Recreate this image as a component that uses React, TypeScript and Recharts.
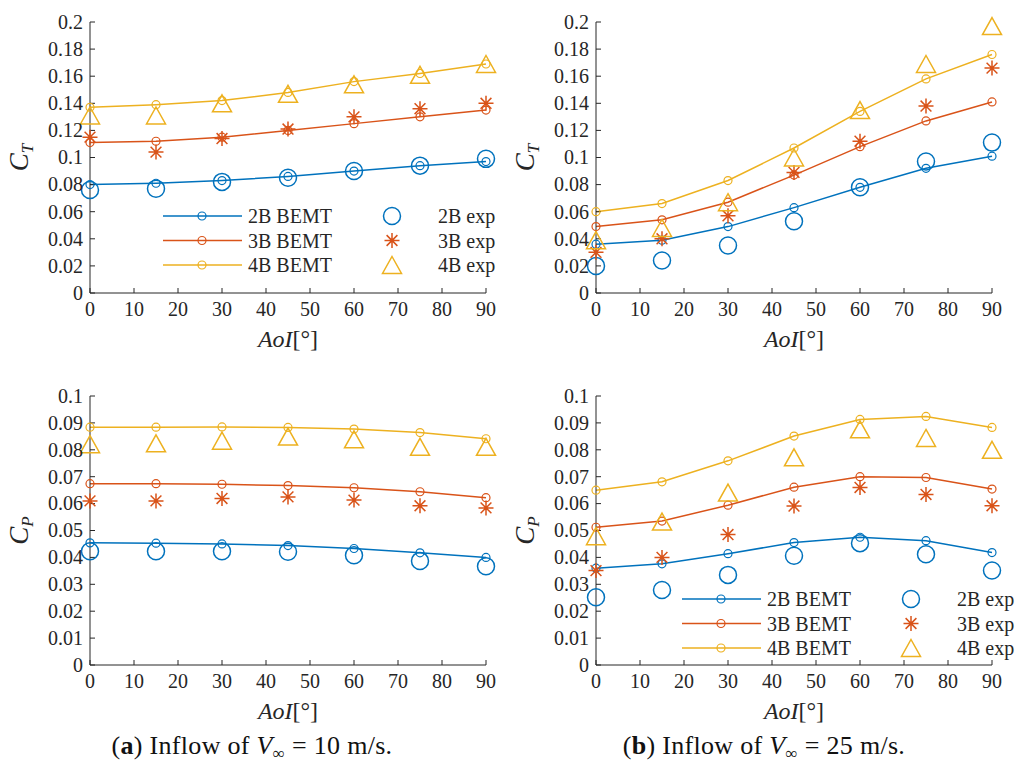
import { LineChart, Line, XAxis, YAxis, Legend } from "recharts"

const BLUE = "#0072BD"
const ORANGE = "#D95319"
const YELLOW = "#EDB120"
const INK = "#262626"
const SERIF = '"Liberation Serif", serif'

// angle of inflow, degrees
const aoi = [0, 15, 30, 45, 60, 75, 90]
const xTicks = [0, 10, 20, 30, 40, 50, 60, 70, 80, 90]
const ctTicks = [0, 0.02, 0.04, 0.06, 0.08, 0.1, 0.12, 0.14, 0.16, 0.18, 0.2]
const cpTicks = [0, 0.01, 0.02, 0.03, 0.04, 0.05, 0.06, 0.07, 0.08, 0.09, 0.1]

// C_T, V = 10 m/s
const ct10Bemt2 = [0.08, 0.081, 0.083, 0.086, 0.09, 0.094, 0.097]
const ct10Bemt3 = [0.111, 0.112, 0.115, 0.12, 0.125, 0.13, 0.135]
const ct10Bemt4 = [0.137, 0.139, 0.142, 0.148, 0.156, 0.162, 0.169]
const ct10Exp2 = [0.076, 0.077, 0.082, 0.085, 0.09, 0.094, 0.099]
const ct10Exp3 = [0.115, 0.104, 0.114, 0.121, 0.13, 0.136, 0.14]
const ct10Exp4 = [0.131, 0.131, 0.14, 0.147, 0.154, 0.161, 0.169]

// C_T, V = 25 m/s
const ct25Bemt2 = [0.036, 0.039, 0.049, 0.063, 0.078, 0.092, 0.101]
const ct25Bemt3 = [0.049, 0.054, 0.067, 0.087, 0.108, 0.127, 0.141]
const ct25Bemt4 = [0.06, 0.066, 0.083, 0.107, 0.134, 0.158, 0.176]
const ct25Exp2 = [0.02, 0.024, 0.035, 0.053, 0.078, 0.097, 0.111]
const ct25Exp3 = [0.03, 0.04, 0.057, 0.089, 0.112, 0.138, 0.166]
const ct25Exp4 = [0.039, 0.048, 0.067, 0.1, 0.135, 0.169, 0.197]

// C_P, V = 10 m/s
const cp10Bemt2 = [0.0454, 0.0453, 0.045, 0.0444, 0.0433, 0.0417, 0.04]
const cp10Bemt3 = [0.0674, 0.0674, 0.0672, 0.0667, 0.0659, 0.0644, 0.0622]
const cp10Bemt4 = [0.0884, 0.0884, 0.0885, 0.0883, 0.0877, 0.0864, 0.0841]
const cp10Exp2 = [0.0423, 0.0423, 0.0423, 0.0421, 0.0408, 0.0387, 0.0367]
const cp10Exp3 = [0.061, 0.061, 0.0619, 0.0625, 0.0613, 0.0592, 0.0584]
const cp10Exp4 = [0.0821, 0.0824, 0.0834, 0.0849, 0.0839, 0.0811, 0.0811]

// C_P, V = 25 m/s
const cp25Bemt2 = [0.036, 0.0376, 0.0414, 0.0455, 0.0475, 0.0462, 0.0418]
const cp25Bemt3 = [0.0512, 0.0535, 0.0594, 0.0661, 0.07, 0.0697, 0.0654]
const cp25Bemt4 = [0.065, 0.0681, 0.0759, 0.0851, 0.0913, 0.0924, 0.0883]
const cp25Exp2 = [0.0252, 0.0279, 0.0335, 0.0406, 0.0453, 0.0412, 0.0351]
const cp25Exp3 = [0.0351, 0.04, 0.0485, 0.0591, 0.066, 0.0634, 0.0592]
const cp25Exp4 = [0.0479, 0.0533, 0.0641, 0.0772, 0.0876, 0.0844, 0.08]

type Row = { aoi: number; b2: number; b3: number; b4: number; e2: number; e3: number; e4: number }

function toRows(b2: number[], b3: number[], b4: number[], e2: number[], e3: number[], e4: number[]): Row[] {
  return aoi.map((a, i) => ({ aoi: a, b2: b2[i], b3: b3[i], b4: b4[i], e2: e2[i], e3: e3[i], e4: e4[i] }))
}

const ct10 = toRows(ct10Bemt2, ct10Bemt3, ct10Bemt4, ct10Exp2, ct10Exp3, ct10Exp4)
const ct25 = toRows(ct25Bemt2, ct25Bemt3, ct25Bemt4, ct25Exp2, ct25Exp3, ct25Exp4)
const cp10 = toRows(cp10Bemt2, cp10Bemt3, cp10Bemt4, cp10Exp2, cp10Exp3, cp10Exp4)
const cp25 = toRows(cp25Bemt2, cp25Bemt3, cp25Bemt4, cp25Exp2, cp25Exp3, cp25Exp4)

const serifStyle = { fontFamily: SERIF }

/* ---- marker shapes (MATLAB-ish 'o', '*', '^') ---- */

function SmallCircle({ cx, cy, color }: { cx: number; cy: number; color: string }) {
  return <circle cx={cx} cy={cy} r={4} fill="none" stroke={color} strokeWidth={1.2} />
}
function BigCircle({ cx, cy, color }: { cx: number; cy: number; color: string }) {
  return <circle cx={cx} cy={cy} r={8.5} fill="none" stroke={color} strokeWidth={1.5} />
}
function Star({ cx, cy, color }: { cx: number; cy: number; color: string }) {
  const r = 7.5
  const d = r * 0.72
  const p =
    `M${cx - r},${cy}H${cx + r}M${cx},${cy - r}V${cy + r}` +
    `M${cx - d},${cy - d}L${cx + d},${cy + d}M${cx - d},${cy + d}L${cx + d},${cy - d}`
  return <path d={p} fill="none" stroke={color} strokeWidth={1.5} />
}
function Tri({ cx, cy, color }: { cx: number; cy: number; color: string }) {
  const p = `M${cx},${cy - 8.5}L${cx + 9.5},${cy + 8.5}L${cx - 9.5},${cy + 8.5}Z`
  return <path d={p} fill="none" stroke={color} strokeWidth={1.5} strokeLinejoin="miter" />
}

type Shape = typeof SmallCircle
const dotOf = (S: Shape, color: string) => (p: any) => {
  if (p.cx == null || p.cy == null) return <g key={`n${p.index}`} />
  return (
    <g key={`d${p.index}`}>
      <S cx={p.cx} cy={p.cy} color={color} />
    </g>
  )
}

/* ---- legend (two columns, no box) ---- */

function LegendBody() {
  const ys = [12, 36.5, 61]
  const bemt = [
    ["2B BEMT", BLUE],
    ["3B BEMT", ORANGE],
    ["4B BEMT", YELLOW],
  ]
  const exp: [string, string, Shape][] = [
    ["2B exp", BLUE, BigCircle],
    ["3B exp", ORANGE, Star],
    ["4B exp", YELLOW, Tri],
  ]
  return (
    <svg width={360} height={76} style={{ display: "block", overflow: "visible" }}>
      {bemt.map(([name, c], i) => (
        <g key={name}>
          <line x1={0} x2={79} y1={ys[i]} y2={ys[i]} stroke={c} strokeWidth={1.5} />
          <SmallCircle cx={39} cy={ys[i]} color={c} />
          <text x={85} y={ys[i] + 7} style={serifStyle} fontSize={20} fill={INK}>
            {name}
          </text>
        </g>
      ))}
      {exp.map(([name, c, S], i) => (
        <g key={name}>
          <S cx={229} cy={ys[i]} color={c} />
          <text x={275} y={ys[i] + 7} style={serifStyle} fontSize={20} fill={INK}>
            {name}
          </text>
        </g>
      ))}
    </svg>
  )
}

/* ---- ticks and axis labels ---- */

const fmt = (v: number) => String(parseFloat(v.toFixed(3)))

const xTick = (p: any) => (
  <text x={p.x} y={p.y} dy="0.71em" textAnchor="middle" style={serifStyle} fontSize={20} fill={INK}>
    {fmt(p.payload.value)}
  </text>
)

const yTick = (p: any) => (
  <text x={p.x} y={p.y} dy="0.34em" textAnchor="end" style={serifStyle} fontSize={20} fill={INK}>
    {fmt(p.payload.value)}
  </text>
)

const xLabel = (props: any) => {
  const vb = props.viewBox
  return (
    <text x={vb.x + vb.width / 2} y={vb.y + 54} textAnchor="middle" style={serifStyle} fontSize={24} fill={INK}>
      <tspan fontStyle="italic">AoI</tspan>
      <tspan>[°]</tspan>
    </text>
  )
}

const yLabel = (sub: string) => (props: any) => {
  const vb = props.viewBox
  const cx = vb.x + 28
  const cy = vb.y + vb.height / 2
  return (
    <text
      x={cx}
      y={cy}
      transform={`rotate(-90 ${cx} ${cy})`}
      textAnchor="middle"
      style={serifStyle}
      fontSize={27}
      fontStyle="italic"
      fill={INK}
    >
      C
      <tspan fontSize={17} dy={5}>
        {sub}
      </tspan>
    </text>
  )
}

type PanelProps = {
  left: number
  top: number
  height: number
  data: Row[]
  yMax: number
  yTicks: number[]
  sub: string
  legend?: { left: number; top: number }
}

function Panel({ left, top, height, data, yMax, yTicks, sub, legend }: PanelProps) {
  return (
    <div style={{ position: "absolute", left, top }}>
      <LineChart width={520} height={height} data={data} margin={{ top: 22, right: 34, left: 0, bottom: 0 }}>
        <XAxis
          type="number"
          dataKey="aoi"
          domain={[0, 90]}
          ticks={xTicks}
          interval={0}
          height={67}
          tickSize={-5}
          tickMargin={14}
          tick={xTick}
          stroke={INK}
          axisLine={{ stroke: INK }}
          tickLine={{ stroke: INK }}
          label={xLabel}
        />
        <YAxis
          type="number"
          domain={[0, yMax]}
          ticks={yTicks}
          interval={0}
          width={90}
          tickSize={-5}
          tickMargin={12}
          tick={yTick}
          stroke={INK}
          axisLine={{ stroke: INK }}
          tickLine={{ stroke: INK }}
          label={yLabel(sub)}
        />
        {legend ? (
          <Legend
            layout="vertical"
            align="center"
            verticalAlign="middle"
            wrapperStyle={{ left: legend.left, top: legend.top, width: 360, height: 76 }}
            content={() => <LegendBody />}
          />
        ) : null}
        <Line dataKey="b2" stroke={BLUE} strokeWidth={1.5} dot={dotOf(SmallCircle, BLUE)} activeDot={false} isAnimationActive={false} />
        <Line dataKey="b3" stroke={ORANGE} strokeWidth={1.5} dot={dotOf(SmallCircle, ORANGE)} activeDot={false} isAnimationActive={false} />
        <Line dataKey="b4" stroke={YELLOW} strokeWidth={1.5} dot={dotOf(SmallCircle, YELLOW)} activeDot={false} isAnimationActive={false} />
        <Line dataKey="e2" stroke="none" dot={dotOf(BigCircle, BLUE)} activeDot={false} isAnimationActive={false} />
        <Line dataKey="e3" stroke="none" dot={dotOf(Star, ORANGE)} activeDot={false} isAnimationActive={false} />
        <Line dataKey="e4" stroke="none" dot={dotOf(Tri, YELLOW)} activeDot={false} isAnimationActive={false} />
      </LineChart>
    </div>
  )
}

function Caption({ x, tag, speed }: { x: number; tag: string; speed: string }) {
  return (
    <text x={x} y={754} textAnchor="middle" style={serifStyle} fontSize={26} letterSpacing={0.3} fill="#111">
      (<tspan fontWeight="bold">{tag}</tspan>) Inflow of <tspan fontStyle="italic">V</tspan>
      <tspan fontSize={17} dy={5}>∞</tspan>
      <tspan dy={-5}> = {speed} m/s.</tspan>
    </text>
  )
}

export default function App() {
  return (
    <div style={{ position: "absolute", left: 0, top: 0, width: 1027, height: 767, background: "#fff", overflow: "hidden" }}>
      <Panel left={0} top={0} height={360} data={ct10} yMax={0.2} yTicks={ctTicks} sub="T" legend={{ left: 163, top: 204 }} />
      <Panel left={506} top={0} height={360} data={ct25} yMax={0.2} yTicks={ctTicks} sub="T" />
      <Panel left={0} top={374} height={358} data={cp10} yMax={0.1} yTicks={cpTicks} sub="P" />
      <Panel left={506} top={374} height={358} data={cp25} yMax={0.1} yTicks={cpTicks} sub="P" legend={{ left: 176, top: 213 }} />
      <svg width={1027} height={767} style={{ position: "absolute", left: 0, top: 0, pointerEvents: "none" }}>
        <Caption x={252} tag="a" speed="10" />
        <Caption x={764} tag="b" speed="25" />
      </svg>
    </div>
  )
}
